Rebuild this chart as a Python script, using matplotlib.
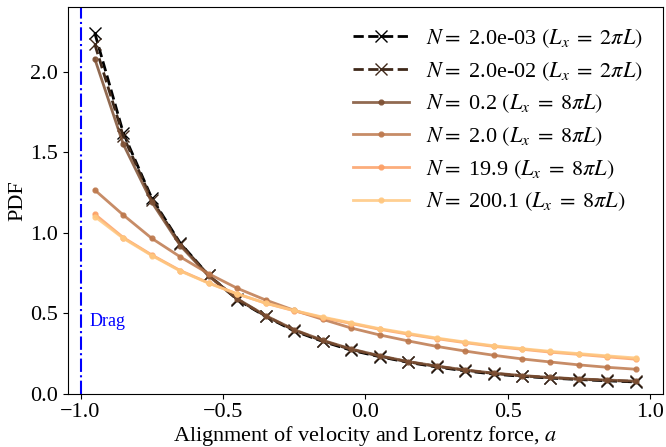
import numpy as np
import matplotlib
matplotlib.use('Agg')
import matplotlib.pyplot as plt

plt.rcParams['font.family'] = ['Liberation Serif', 'DejaVu Serif']
plt.rcParams['mathtext.fontset'] = 'stix'
plt.rcParams['font.size'] = 16

# alignment bins
a = [-0.95, -0.85, -0.75, -0.65, -0.55, -0.45, -0.35, -0.25, -0.15, -0.05,
     0.05, 0.15, 0.25, 0.35, 0.45, 0.55, 0.65, 0.75, 0.85, 0.95]

pdf_n2e3 = [2.24, 1.62, 1.215, 0.935, 0.735, 0.585, 0.48, 0.39, 0.325, 0.27,
            0.23, 0.195, 0.166, 0.142, 0.122, 0.108, 0.097, 0.088, 0.08, 0.073]
pdf_n2e2 = [2.17, 1.60, 1.205, 0.93, 0.735, 0.588, 0.482, 0.395, 0.328, 0.275,
            0.233, 0.198, 0.17, 0.146, 0.126, 0.111, 0.1, 0.09, 0.083, 0.076]
pdf_n02 = [2.08, 1.55, 1.19, 0.92, 0.73, 0.59, 0.485, 0.398, 0.332, 0.278,
           0.236, 0.2, 0.172, 0.148, 0.128, 0.113, 0.101, 0.092, 0.085, 0.078]
pdf_n2 = [1.265, 1.11, 0.965, 0.85, 0.745, 0.655, 0.582, 0.518, 0.462, 0.408,
          0.365, 0.328, 0.294, 0.265, 0.239, 0.216, 0.197, 0.179, 0.164, 0.152]
pdf_n20 = [1.115, 0.97, 0.862, 0.765, 0.688, 0.62, 0.562, 0.515, 0.472, 0.436,
           0.4, 0.37, 0.342, 0.317, 0.294, 0.276, 0.258, 0.244, 0.229, 0.214]
pdf_n200 = [1.10, 0.965, 0.858, 0.762, 0.686, 0.62, 0.563, 0.517, 0.476, 0.44,
            0.404, 0.375, 0.346, 0.321, 0.298, 0.28, 0.263, 0.249, 0.235, 0.222]

labels = [r'$N=$ 2.0e-03 $(L_x\;=\;2\pi L)$',
          r'$N=$ 2.0e-02 $(L_x\;=\;2\pi L)$',
          r'$N=$ 0.2 $(L_x\;=\;8\pi L)$',
          r'$N=$ 2.0 $(L_x\;=\;8\pi L)$',
          r'$N=$ 19.9 $(L_x\;=\;8\pi L)$',
          r'$N=$ 200.1 $(L_x\;=\;8\pi L)$']

colors = plt.get_cmap('copper')(np.linspace(0, 1, 6))

fig = plt.figure(figsize=(6.66, 4.47), dpi=100)
ax = fig.add_axes([0.1017, 0.1192, 0.8938, 0.8645])

ax.plot(a, pdf_n2e3, '--', marker='x', ms=8, lw=2, color=colors[0], label=labels[0])
ax.plot(a, pdf_n2e2, '--', marker='x', ms=8, lw=2, color=colors[1], label=labels[1])
series = [pdf_n02, pdf_n2, pdf_n20, pdf_n200]
for i, s in enumerate(series):
    ax.plot(a, s, '-', marker='.', ms=7, lw=2, color=colors[i + 2], alpha=0.85,
            label=labels[i + 2])

ax.axvline(-1.0, color='blue', ls='-.', lw=1.5)
ax.text(-0.97, 0.45, 'Drag', color='blue', fontsize=13, va='center')

ax.set_xlim(-1.045, 1.045)
ax.set_ylim(0, 2.4)
ax.set_xticks([-1.0, -0.5, 0.0, 0.5, 1.0])
ax.set_yticks([0.0, 0.5, 1.0, 1.5, 2.0])
ax.set_xlabel('Alignment of velocity and Lorentz force, $a$', labelpad=1)
ax.set_ylabel('PDF', labelpad=2)
ax.legend(loc='upper right', frameon=False, handlelength=2.5, fontsize=16,
          labelspacing=0.45)

plt.savefig('out.png', dpi=100)
